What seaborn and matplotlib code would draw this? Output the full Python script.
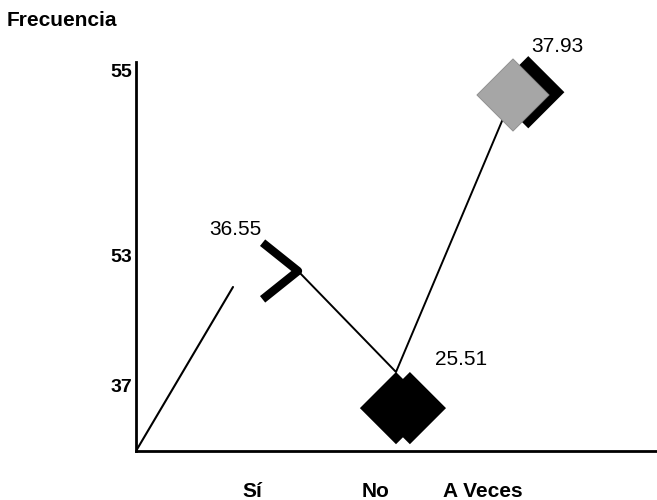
import numpy as np
import matplotlib
matplotlib.use("Agg")
import matplotlib.pyplot as plt
import matplotlib.patheffects as pe
from matplotlib.path import Path
from matplotlib.markers import MarkerStyle
import seaborn as sns

# --- data -------------------------------------------------------------
categories = ["Sí", "No", "A Veces"]
values = [36.55, 25.51, 37.93]          # printed next to each point
point_x = [162, 260, 377]               # horizontal position of each point
point_y = [180, 79, 356]                # plotted height of each point
category_x = [116, 240, 347]            # where the category names sit
lead_x = [0, 97]                        # short lead-in segment from the origin
lead_y = [0, 164]
ytick_pos = [66, 195, 381]
ytick_labels = ["37", "53", "55"]

# --- style ------------------------------------------------------------
sns.set_style("white")
plt.rcParams["font.family"] = ["Liberation Sans", "DejaVu Sans"]
plt.rcParams["text.color"] = "black"
plt.rcParams["xtick.color"] = "black"
plt.rcParams["ytick.color"] = "black"
plt.rcParams["axes.labelcolor"] = "black"

fig = plt.figure(figsize=(6.57, 5), dpi=100)
ax = fig.add_axes([136 / 657, 49 / 500, 521 / 657, 389 / 500])
ax.set_xlim(0, 521)
ax.set_ylim(0, 389)

# connecting lines
sns.lineplot(x=lead_x, y=lead_y, color="black", linewidth=1.5, ax=ax,
             estimator=None, sort=False)
sns.lineplot(x=point_x, y=point_y, color="black", linewidth=1.4, ax=ax,
             estimator=None, sort=False)

# open chevron for the first category
chevron = MarkerStyle(Path([(-1, 0.8), (0, 0), (-1, -0.8)],
                           [Path.MOVETO, Path.LINETO, Path.LINETO]))
sns.scatterplot(x=point_x[:1], y=point_y[:1], marker=chevron, s=2600,
                facecolor="none", edgecolor="black", linewidth=6,
                ax=ax, zorder=4, clip_on=False)

# solid diamond hanging below the second point
hanging = MarkerStyle(Path([(0, 0), (1, -1), (0, -2), (-1, -1), (0, 0)],
                           [Path.MOVETO, Path.LINETO, Path.LINETO,
                            Path.LINETO, Path.CLOSEPOLY]))
sns.scatterplot(x=point_x[1:2], y=point_y[1:2], marker=hanging, s=104 ** 2,
                color="black", edgecolor="black", linewidth=0, ax=ax,
                zorder=4, clip_on=False,
                path_effects=[pe.SimplePatchShadow(offset=(10, 0),
                                                   shadow_rgbFace="black",
                                                   alpha=1),
                              pe.Normal()])

# grey diamond with dark shadow for the third point
diamond = MarkerStyle(Path([(0, 1), (1, 0), (0, -1), (-1, 0), (0, 1)],
                           [Path.MOVETO, Path.LINETO, Path.LINETO,
                            Path.LINETO, Path.CLOSEPOLY]))
sns.scatterplot(x=point_x[2:], y=point_y[2:], marker=diamond, s=52 ** 2,
                color="#a6a6a6", edgecolor="#8a8a8a", linewidth=0.6, ax=ax,
                zorder=4, clip_on=False,
                path_effects=[pe.SimplePatchShadow(offset=(11, 2),
                                                   shadow_rgbFace="black",
                                                   alpha=1),
                              pe.Normal()])

# value labels
offsets = [(-45, 30), (47, 9), (32, 35)]
for x, y, v, off in zip(point_x, point_y, values, offsets):
    ax.annotate(f"{v:.2f}", (x, y), xytext=off, textcoords="offset points",
                ha="center", va="center", fontsize=15, color="black",
                annotation_clip=False)

# axes
for side in ("top", "right"):
    ax.spines[side].set_visible(False)
for side in ("left", "bottom"):
    ax.spines[side].set_linewidth(2)
    ax.spines[side].set_color("black")

ax.set_xticks(category_x, categories)
ax.set_yticks(ytick_pos, ytick_labels)
ax.tick_params(axis="x", length=0, pad=22, labelsize=15, labelcolor="black")
ax.tick_params(axis="y", length=0, pad=3, labelsize=14, labelcolor="black")
for lab in ax.get_xticklabels() + ax.get_yticklabels():
    lab.set_fontweight("bold")
ax.set_xlabel("")
ax.set_ylabel("")

fig.text(7 / 657, 1 - 21 / 500, "Frecuencia", fontsize=15, color="black",
         fontweight="bold", ha="left", va="center")

fig.savefig("out.png", dpi=100)
